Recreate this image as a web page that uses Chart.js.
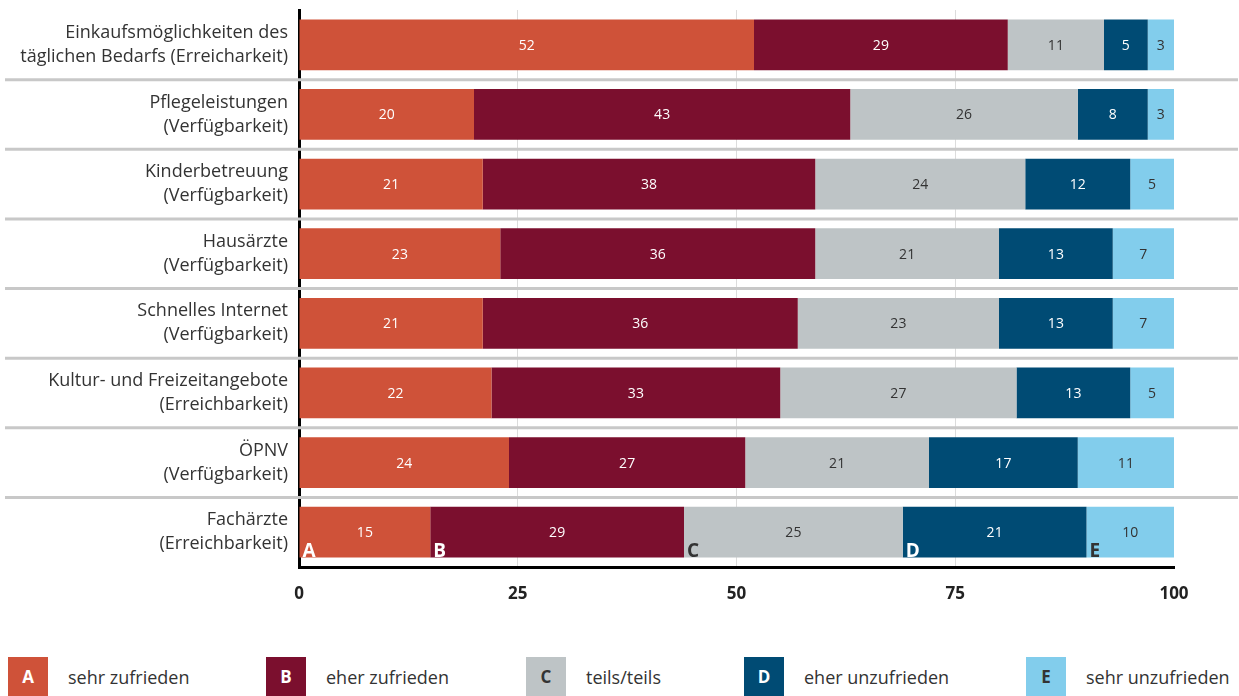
<!DOCTYPE html>
<html lang="de">
<head>
<meta charset="utf-8">
<script src="https://cdn.jsdelivr.net/npm/chart.js@4/dist/chart.umd.min.js"></script>
<style>
  html, body { margin: 0; padding: 0; background: #fff; }
  body { width: 1239px; height: 696px; position: relative; overflow: hidden; font-family: "Open Sans", sans-serif; }
  #wrap { position: absolute; left: 0; top: 0; width: 1239px; height: 620px; }
  .legend { position: absolute; top: 657px; height: 39px; display: flex; align-items: center; color: #333; font-size: 18px; }
  .legend .box { width: 40px; height: 39px; display: flex; align-items: center; justify-content: center; font-weight: bold; font-size: 17px; margin-right: 20px; }
</style>
</head>
<body>
<div id="wrap"><canvas id="chart"></canvas></div>
<div id="legend"></div>
<script>
const categories = [
  ["Einkaufsmöglichkeiten des", "täglichen Bedarfs (Erreicharkeit)"],
  ["Pflegeleistungen", "(Verfügbarkeit)"],
  ["Kinderbetreuung", "(Verfügbarkeit)"],
  ["Hausärzte", "(Verfügbarkeit)"],
  ["Schnelles Internet", "(Verfügbarkeit)"],
  ["Kultur- und Freizeitangebote", "(Erreichbarkeit)"],
  ["ÖPNV", "(Verfügbarkeit)"],
  ["Fachärzte", "(Erreichbarkeit)"]
];
const seriesNames = ["sehr zufrieden", "eher zufrieden", "teils/teils", "eher unzufrieden", "sehr unzufrieden"];
const seriesLetters = ["A", "B", "C", "D", "E"];
const sehrZufrieden   = [52, 20, 21, 23, 21, 22, 24, 15];
const eherZufrieden   = [29, 43, 38, 36, 36, 33, 27, 29];
const teilsTeils      = [11, 26, 24, 21, 23, 27, 21, 25];
const eherUnzufrieden = [5, 8, 12, 13, 13, 13, 17, 21];
const sehrUnzufrieden = [3, 3, 5, 7, 7, 5, 11, 10];
const xTicks = [0, 25, 50, 75, 100];

const colors = ["#cf5239", "#7b0f2e", "#bec4c6", "#004b74", "#82cdec"];
const textColors = ["#ffffff", "#ffffff", "#333333", "#ffffff", "#333333"];
const FONT = "'Open Sans', sans-serif";

const seriesData = [sehrZufrieden, eherZufrieden, teilsTeils, eherUnzufrieden, sehrUnzufrieden];

// Trennlinien zwischen den Kategorien + Werte + Buchstaben
const overlay = {
  id: "overlay",
  beforeDatasetsDraw(chart) {
    const ctx = chart.ctx, y = chart.scales.y;
    ctx.save();
    ctx.strokeStyle = "#c8c8c8";
    ctx.lineWidth = 3;
    for (let i = 0; i < categories.length - 1; i++) {
      const yy = (y.getPixelForValue(i) + y.getPixelForValue(i + 1)) / 2;
      ctx.beginPath();
      ctx.moveTo(5, yy);
      ctx.lineTo(1238, yy);
      ctx.stroke();
    }
    ctx.restore();
  },
  afterDatasetsDraw(chart) {
    const ctx = chart.ctx;
    ctx.save();
    chart.data.datasets.forEach((ds, di) => {
      const meta = chart.getDatasetMeta(di);
      meta.data.forEach((bar, i) => {
        const cx = (bar.x + bar.base) / 2;
        ctx.fillStyle = textColors[di];
        ctx.font = "14px " + FONT;
        ctx.textAlign = "center";
        ctx.textBaseline = "middle";
        ctx.fillText(String(ds.data[i]), cx, bar.y + 1);
        if (i === categories.length - 1) {
          ctx.font = "bold 19px " + FONT;
          ctx.textAlign = "left";
          ctx.textBaseline = "bottom";
          ctx.fillText(seriesLetters[di], Math.min(bar.x, bar.base) + 3, bar.y + bar.height / 2 + 3);
        }
      });
    });
    ctx.restore();
  }
};

new Chart(document.getElementById("chart"), {
  type: "bar",
  data: {
    labels: categories,
    datasets: seriesData.map((d, i) => ({
      label: seriesNames[i],
      data: d,
      backgroundColor: colors[i],
      borderWidth: 0,
      barPercentage: 0.73,
      categoryPercentage: 1
    }))
  },
  options: {
    indexAxis: "y",
    responsive: true,
    maintainAspectRatio: false,
    animation: false,
    layout: { padding: { top: 10, right: 65, left: 0, bottom: 0 } },
    plugins: { legend: { display: false }, tooltip: { enabled: false } },
    scales: {
      x: {
        stacked: true,
        min: 0,
        max: 100,
        afterBuildTicks: s => { s.ticks = xTicks.map(v => ({ value: v })); },
        grid: {
          color: c => (c.tick && (c.tick.value === 0 || c.tick.value === 100)) ? "rgba(0,0,0,0)" : "#dcdcdc",
          lineWidth: 1,
          drawTicks: false
        },
        border: { color: "#000", width: 3 },
        ticks: { color: "#222", font: { family: FONT, size: 17, weight: "bold" }, padding: 17 },
        afterFit: s => { s.height = 53; s.paddingLeft = 0; s.paddingRight = 0; }
      },
      y: {
        stacked: true,
        grid: { display: false, drawTicks: false },
        border: { color: "#000", width: 3 },
        ticks: { color: "#333", font: { family: FONT, size: 18, lineHeight: 1.33 }, padding: 11 },
        afterFit: s => { s.width = 299; s.paddingTop = 0; s.paddingBottom = 0; }
      }
    }
  },
  plugins: [overlay]
});

// Legende
const legendLeft = [8, 266, 526, 744, 1026];
const legend = document.getElementById("legend");
seriesNames.forEach((name, i) => {
  const item = document.createElement("div");
  item.className = "legend";
  item.style.left = legendLeft[i] + "px";
  const box = document.createElement("div");
  box.className = "box";
  box.style.background = colors[i];
  box.style.color = textColors[i];
  box.textContent = seriesLetters[i];
  const label = document.createElement("span");
  label.textContent = name;
  item.appendChild(box);
  item.appendChild(label);
  legend.appendChild(item);
});
</script>
</body>
</html>
